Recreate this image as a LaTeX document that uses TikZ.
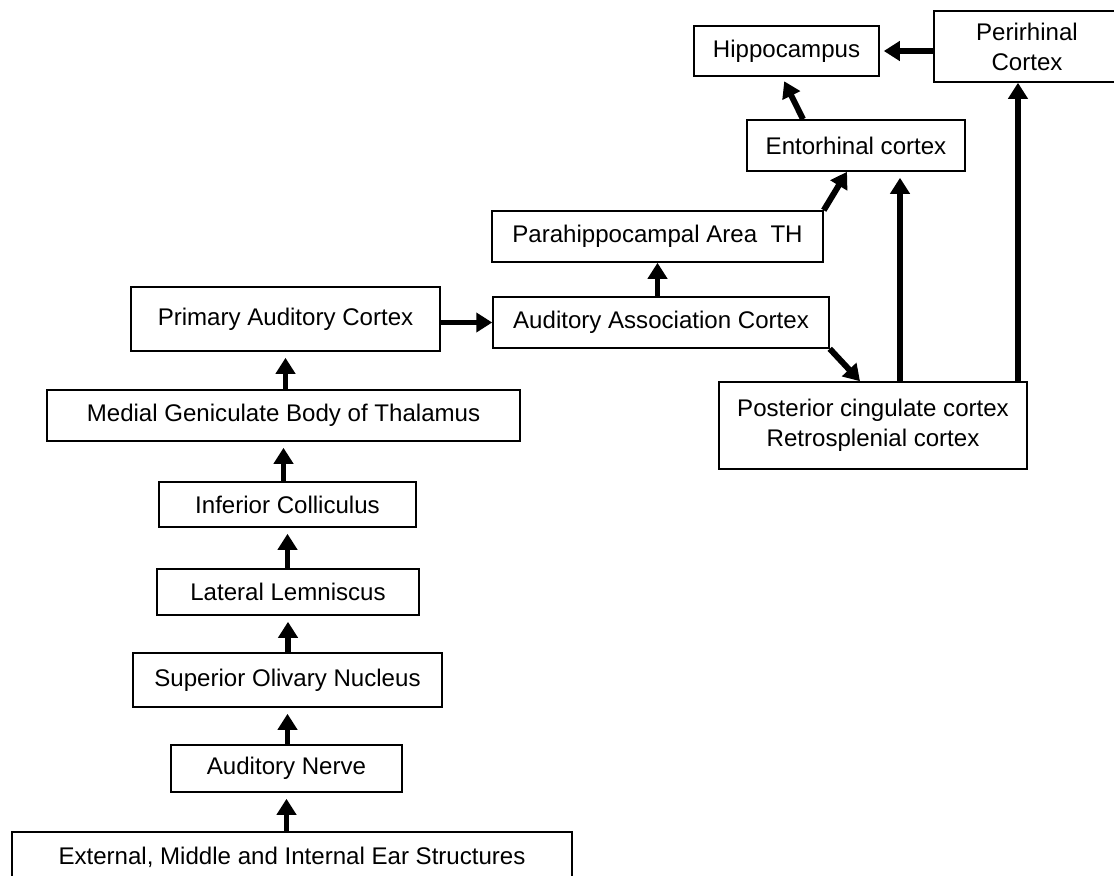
\documentclass[tikz,border=0pt]{standalone}
\usepackage{fontspec}
\setmainfont{Liberation Sans}
\usetikzlibrary{arrows.meta}
\tikzset{
  area/.style={draw, line width=0.9pt, inner sep=0pt, align=center,
    font=\fontsize{13.7}{17}\selectfont},
  flow/.style={line width=3.4pt, -{Triangle[length=0.32cm,width=0.38cm]}},
}
\begin{document}
\begin{tikzpicture}[x=0.02cm, y=-0.02cm]
    \useasboundingbox (0,0) rectangle (1114,875);

    % ascending auditory pathway
    \node[area, minimum width=11.2cm, minimum height=1cm] (ear) at (292,857) {External, Middle and Internal Ear Structures};
    \node[area, minimum width=4.62cm, minimum height=0.94cm] (nerve) at (286.5,768.5) {Auditory Nerve};
    \node[area, minimum width=6.18cm, minimum height=1.08cm] (olive) at (287.5,680) {Superior Olivary Nucleus};
    \node[area, minimum width=5.24cm, minimum height=0.92cm] (lemn) at (288,592) {Lateral Lemniscus};
    \node[area, minimum width=5.14cm, minimum height=0.9cm] (colli) at (287.5,504.5) {Inferior Colliculus};
    \node[area, minimum width=9.46cm, minimum height=1.02cm] (mgb) at (283.5,415.5) {Medial Geniculate Body of Thalamus};
    \node[area, minimum width=6.18cm, minimum height=1.28cm] (pac) at (285.5,319) {Primary Auditory Cortex};

    % cortical areas
    \node[area, minimum width=6.72cm, minimum height=1.02cm] (assoc) at (661,322.5) {Auditory Association Cortex};
    \node[area, minimum width=6.62cm, minimum height=1.02cm] (parah) at (657.5,236.5) {Parahippocampal Area~~TH};
    \node[area, minimum width=6.16cm, minimum height=1.74cm] (postc) at (873,425.5) {Posterior cingulate cortex\\Retrosplenial cortex};
    \node[area, minimum width=4.36cm, minimum height=1.02cm] (ento) at (856,145.5) {Entorhinal cortex};
    \node[area, minimum width=3.7cm, minimum height=1cm] (hippo) at (786.5,51) {Hippocampus};
    \node[area, minimum width=3.72cm, minimum height=1.42cm] (peri) at (1027,46.5) {Perirhinal\\Cortex};

    % arrows up the stack
    \draw[flow, shorten >=0.12cm] (ear.north -| nerve) -- (nerve.south);
    \draw[flow, shorten >=0.12cm] (nerve.north -| olive) -- (olive.south);
    \draw[flow, shorten >=0.12cm] (olive.north -| lemn) -- (lemn.south);
    \draw[flow, shorten >=0.12cm] (lemn.north -| colli) -- (colli.south);
    \draw[flow, shorten >=0.12cm] (colli.north -| mgb) -- (mgb.south);
    \draw[flow, shorten >=0.12cm] (mgb.north -| pac) -- (pac.south);

    % arrows between cortical areas
    \draw[flow] (pac.east |- assoc.west) -- (assoc.west);
    \draw[flow] (assoc.north -| parah) -- (parah.south);
    \draw[flow] (assoc.south east) -- ([xshift=-0.26cm]postc.north);
    \draw[flow] (parah.north east) -- ([xshift=-0.18cm]ento.south);
    \draw[flow, shorten >=0.1cm] ([xshift=-1.06cm]ento.north) -- ([xshift=-0.09cm]hippo.south);
    \draw[flow, shorten >=0.08cm] (peri.west |- hippo.east) -- (hippo.east);
    \coordinate (postL) at ([xshift=0.54cm]postc.north);
    \coordinate (postR) at ([xshift=2.9cm]postc.north);
    \draw[flow, shorten >=0.12cm] (postL) -- (postL |- ento.south);
    \draw[flow] (postR) -- (postR |- peri.south);
\end{tikzpicture}
\end{document}
